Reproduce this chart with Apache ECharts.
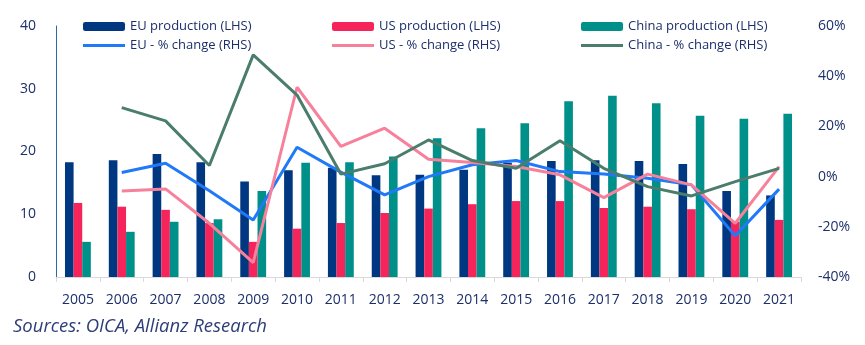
<!DOCTYPE html>
<html>
<head>
<meta charset="utf-8">
<script src="https://cdn.jsdelivr.net/npm/echarts@6/dist/echarts.min.js"></script>
<style>
html,body{margin:0;padding:0;background:#fff;}
#c{width:865px;height:345px;}
</style>
</head>
<body>
<div id="c"></div>
<script>
const years = ['2005','2006','2007','2008','2009','2010','2011','2012','2013','2014','2015','2016','2017','2018','2019','2020','2021'];
const euProd = [18.3,18.6,19.6,18.3,15.2,17.0,17.4,16.2,16.3,17.1,18.2,18.5,18.6,18.5,18.0,13.7,13.0];
const usProd = [11.8,11.2,10.7,8.6,5.6,7.7,8.6,10.2,10.9,11.6,12.1,12.1,11.0,11.2,10.8,8.8,9.1];
const cnProd = [5.6,7.2,8.8,9.2,13.7,18.2,18.3,19.2,22.1,23.7,24.5,28.0,28.9,27.7,25.7,25.2,26.0];
const euChg = [null,1.6,5.3,-5.6,-17.3,11.7,1.8,-7.3,0.0,4.7,6.4,2.0,1.0,-0.7,-3.3,-23.6,-5.0];
const usChg = [null,-5.7,-4.9,-18.6,-34.3,35.6,12.0,19.3,6.9,5.6,4.0,0.7,-8.4,1.0,-3.3,-18.6,4.0];
const cnChg = [null,27.5,22.2,4.4,48.5,32.5,1.0,5.1,14.6,6.4,3.3,14.3,3.3,-4.0,-7.7,-2.0,3.3];
const leftTicks = {min:0,max:40,interval:10};
const rightTicks = {min:-40,max:60,interval:20};

const navy = '#1c2f6b';
const font = 'Open Sans';
const lineIcon = 'path://M0,0L0.01,0ZM0,3L42,3L42,6L0,6ZM0,9L0.01,9Z';
const chart = echarts.init(document.getElementById('c'));
const legendBase = {
  orient:'vertical', top:15, itemWidth:42, itemHeight:9, itemGap:6,
  textStyle:{color:navy, fontFamily:font, fontSize:13}, selectedMode:false
};
chart.setOption({
  animation:false,
  textStyle:{fontFamily:font},
  grid:{left:56,right:64,top:26,bottom:68},
  legend:[
    Object.assign({left:78, data:['EU production (LHS)',{name:'EU - % change (RHS)',icon:lineIcon}]}, legendBase),
    Object.assign({left:327, data:['US production (LHS)',{name:'US - % change (RHS)',icon:lineIcon}]}, legendBase),
    Object.assign({left:576, data:['China production (LHS)',{name:'China - % change (RHS)',icon:lineIcon}]}, legendBase)
  ],
  graphic:[{type:'text', left:13, top:317, style:{text:'Sources: OICA, Allianz Research', fill:'#2d3d78', font:'italic 18.5px "Open Sans"'}}],
  xAxis:{type:'category', data:years,
    axisLine:{lineStyle:{color:'#d9d9d9',width:1}},
    axisTick:{show:true,length:5,lineStyle:{color:'#d9d9d9'}},
    axisLabel:{color:navy,fontSize:14,margin:16,fontFamily:font}},
  yAxis:[
    {type:'value', min:leftTicks.min, max:leftTicks.max, interval:leftTicks.interval,
     axisLine:{show:true,lineStyle:{color:'#2a6aa6',width:1}}, axisTick:{show:false}, splitLine:{show:false},
     axisLabel:{color:navy,fontSize:14,margin:20,fontFamily:font}},
    {type:'value', min:rightTicks.min, max:rightTicks.max, interval:rightTicks.interval, position:'right',
     axisLine:{show:false}, axisTick:{show:false}, splitLine:{show:false},
     axisLabel:{color:navy,fontSize:14,margin:17,formatter:'{value}%',fontFamily:font}}
  ],
  series:[
    {name:'EU production (LHS)', type:'bar', data:euProd, barGap:'0%', barCategoryGap:'41%', itemStyle:{color:'#003781'}, z:1},
    {name:'US production (LHS)', type:'bar', data:usProd, itemStyle:{color:'#f5245b'}, z:1},
    {name:'China production (LHS)', type:'bar', data:cnProd, itemStyle:{color:'#00908a'}, z:1},
    {name:'EU - % change (RHS)', type:'line', yAxisIndex:1, data:euChg, symbol:'none', lineStyle:{color:'#2079f7',width:3}, itemStyle:{color:'#2079f7'}, z:3},
    {name:'US - % change (RHS)', type:'line', yAxisIndex:1, data:usChg, symbol:'none', lineStyle:{color:'#f7819b',width:3}, itemStyle:{color:'#f7819b'}, z:3},
    {name:'China - % change (RHS)', type:'line', yAxisIndex:1, data:cnChg, symbol:'none', lineStyle:{color:'#4b7d6c',width:3}, itemStyle:{color:'#4b7d6c'}, z:3}
  ]
});
</script>
</body>
</html>
